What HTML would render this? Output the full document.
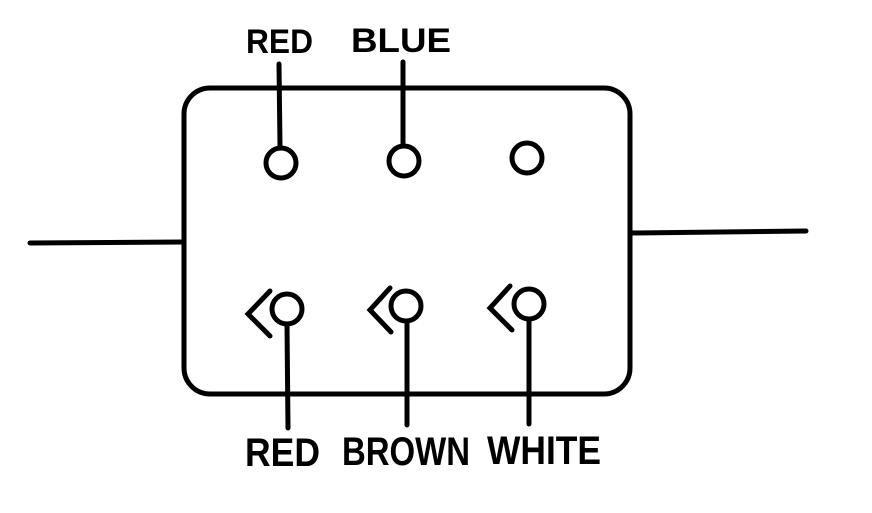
<!DOCTYPE html>
<html><head><meta charset="utf-8"><style>
html,body{margin:0;padding:0;background:#fff;}
svg{display:block;}
text{font-family:"Liberation Sans",sans-serif;font-weight:bold;fill:#000;}
</style></head><body>
<svg width="872" height="513" viewBox="0 0 872 513">
<g stroke="#000" stroke-width="5" fill="none" stroke-linecap="round">
<rect x="184" y="88" width="446" height="306" rx="26"/>
<line x1="30" y1="243" x2="184" y2="242"/>
<line x1="630" y1="233" x2="806" y2="231"/>
<line x1="279" y1="64" x2="280" y2="147"/>
<line x1="403" y1="62" x2="403" y2="145"/>
<circle cx="281" cy="163" r="15"/>
<circle cx="404" cy="161" r="15"/>
<circle cx="527" cy="158" r="15"/>
<circle cx="287" cy="309" r="15"/>
<circle cx="406" cy="306" r="15"/>
<circle cx="529" cy="304" r="15"/>
<polyline points="270,291 248,314 270,336"/>
<polyline points="390,288 370,310 391,332"/>
<polyline points="510,286 490,308 512,330"/>
<line x1="287" y1="324" x2="288" y2="428"/>
<line x1="407" y1="321" x2="407" y2="425"/>
<line x1="529" y1="319" x2="529" y2="424"/>
</g>
<text x="246" y="53" font-size="34" textLength="67" lengthAdjust="spacingAndGlyphs">RED</text>
<text x="351" y="52" font-size="34" textLength="100" lengthAdjust="spacingAndGlyphs">BLUE</text>
<text x="245" y="466" font-size="40" textLength="75" lengthAdjust="spacingAndGlyphs">RED</text>
<text x="342" y="465" font-size="40" textLength="128" lengthAdjust="spacingAndGlyphs">BROWN</text>
<text x="487" y="464" font-size="40" textLength="114" lengthAdjust="spacingAndGlyphs">WHITE</text>
</svg>
</body></html>
